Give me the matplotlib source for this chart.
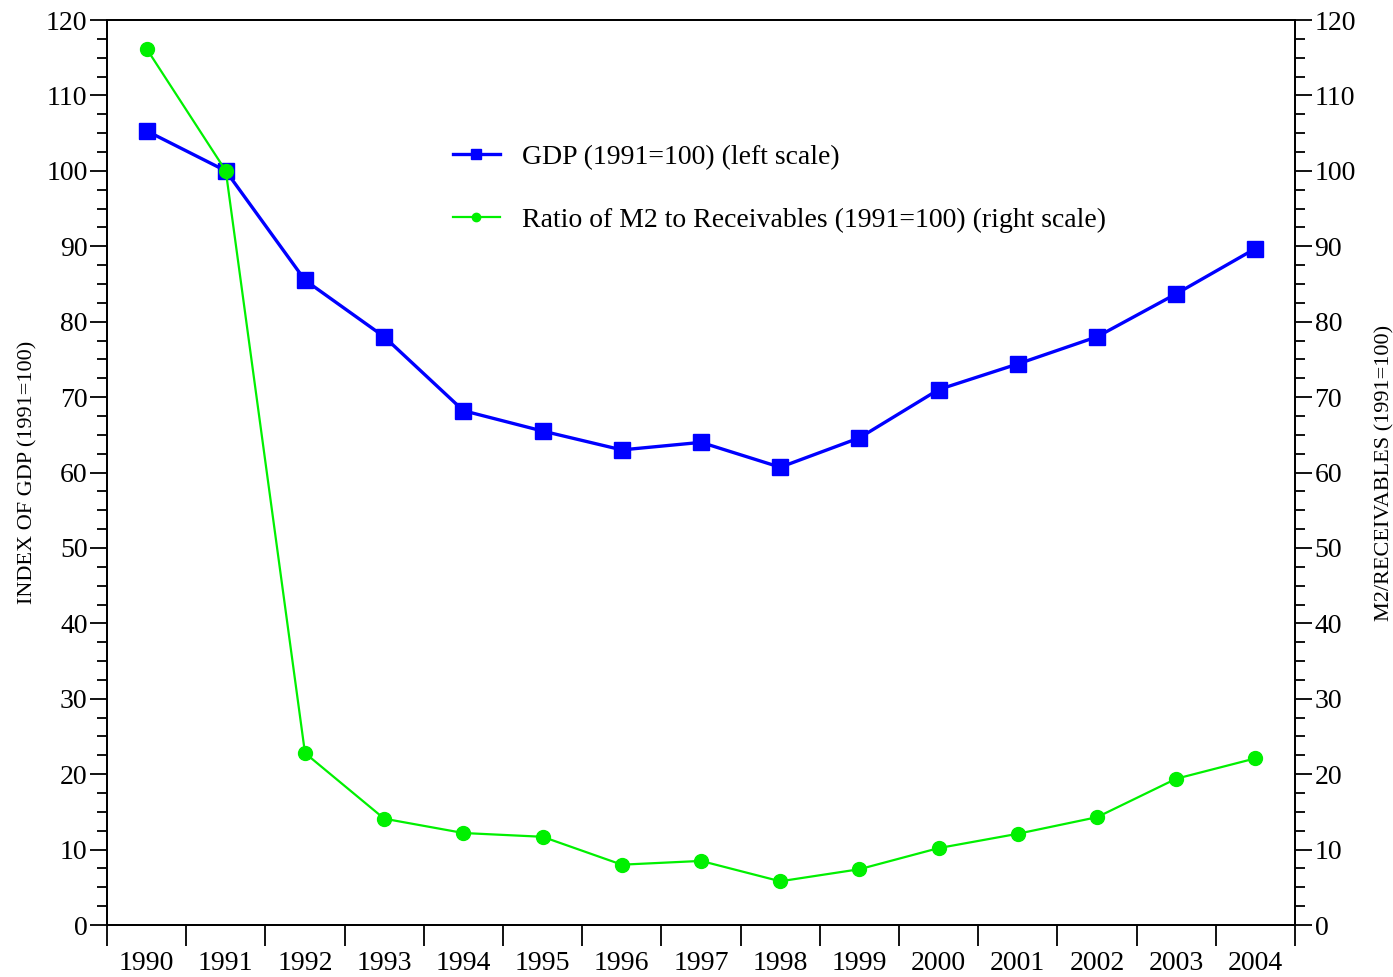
import matplotlib.pyplot as plt
from matplotlib.ticker import MultipleLocator, FixedLocator, NullFormatter

plt.rcParams['font.family'] = ['Liberation Serif', 'DejaVu Serif']

years = [1990, 1991, 1992, 1993, 1994, 1995, 1996, 1997, 1998, 1999,
         2000, 2001, 2002, 2003, 2004]
gdp_index = [105.3, 100.0, 85.5, 78.0, 68.2, 65.5, 63.0, 64.0, 60.7, 64.6,
             71.0, 74.4, 78.0, 83.7, 89.7]
m2_receivables = [116.2, 100.0, 22.8, 14.1, 12.2, 11.7, 8.0, 8.5, 5.8, 7.4,
                  10.2, 12.1, 14.3, 19.4, 22.1]

fig = plt.figure(figsize=(13.93, 9.77), dpi=100)
ax = fig.add_axes([0.0768, 0.0532, 0.8529, 0.9263])
ax2 = ax.twinx()

x = list(range(len(years)))
l1, = ax.plot(x, gdp_index, color='#0000ff', lw=2.4, marker='s', ms=12,
              label='GDP (1991=100) (left scale)')
l2, = ax2.plot(x, m2_receivables, color='#00f000', lw=1.6, marker='o', ms=10,
               label='Ratio of M2 to Receivables (1991=100) (right scale)')

for a in (ax, ax2):
    a.set_xlim(-0.5, len(years) - 0.5)
    a.set_ylim(0, 120)
    a.yaxis.set_major_locator(MultipleLocator(10))
    a.yaxis.set_minor_locator(MultipleLocator(2.5))
    a.tick_params(axis='y', which='major', length=12, width=1.3, labelsize=20, pad=2)
    a.tick_params(axis='y', which='minor', length=7, width=1.3)
    for s in a.spines.values():
        s.set_linewidth(1.3)

# year labels sit between the boundary ticks
ax.xaxis.set_major_locator(FixedLocator([i - 0.5 for i in range(len(years) + 1)]))
ax.xaxis.set_major_formatter(NullFormatter())
ax.xaxis.set_minor_locator(FixedLocator(x))
ax.set_xticklabels([str(y) for y in years], minor=True)
ax.tick_params(axis='x', which='major', length=15, width=1.3)
ax.tick_params(axis='x', which='minor', length=0, labelsize=20, pad=19)

ax.set_ylabel('INDEX OF GDP (1991=100)', fontsize=16, labelpad=6)
ax2.set_ylabel('M2/RECEIVABLES (1991=100)', fontsize=16, rotation=90, labelpad=14)

ax.legend(handles=[l1, l2], loc='upper left', bbox_to_anchor=(0.27, 0.89),
          frameon=False, fontsize=20, markerscale=0.6, handlelength=1.7,
          handletextpad=0.8, labelspacing=1.35)

fig.savefig('out.png', dpi=100)
